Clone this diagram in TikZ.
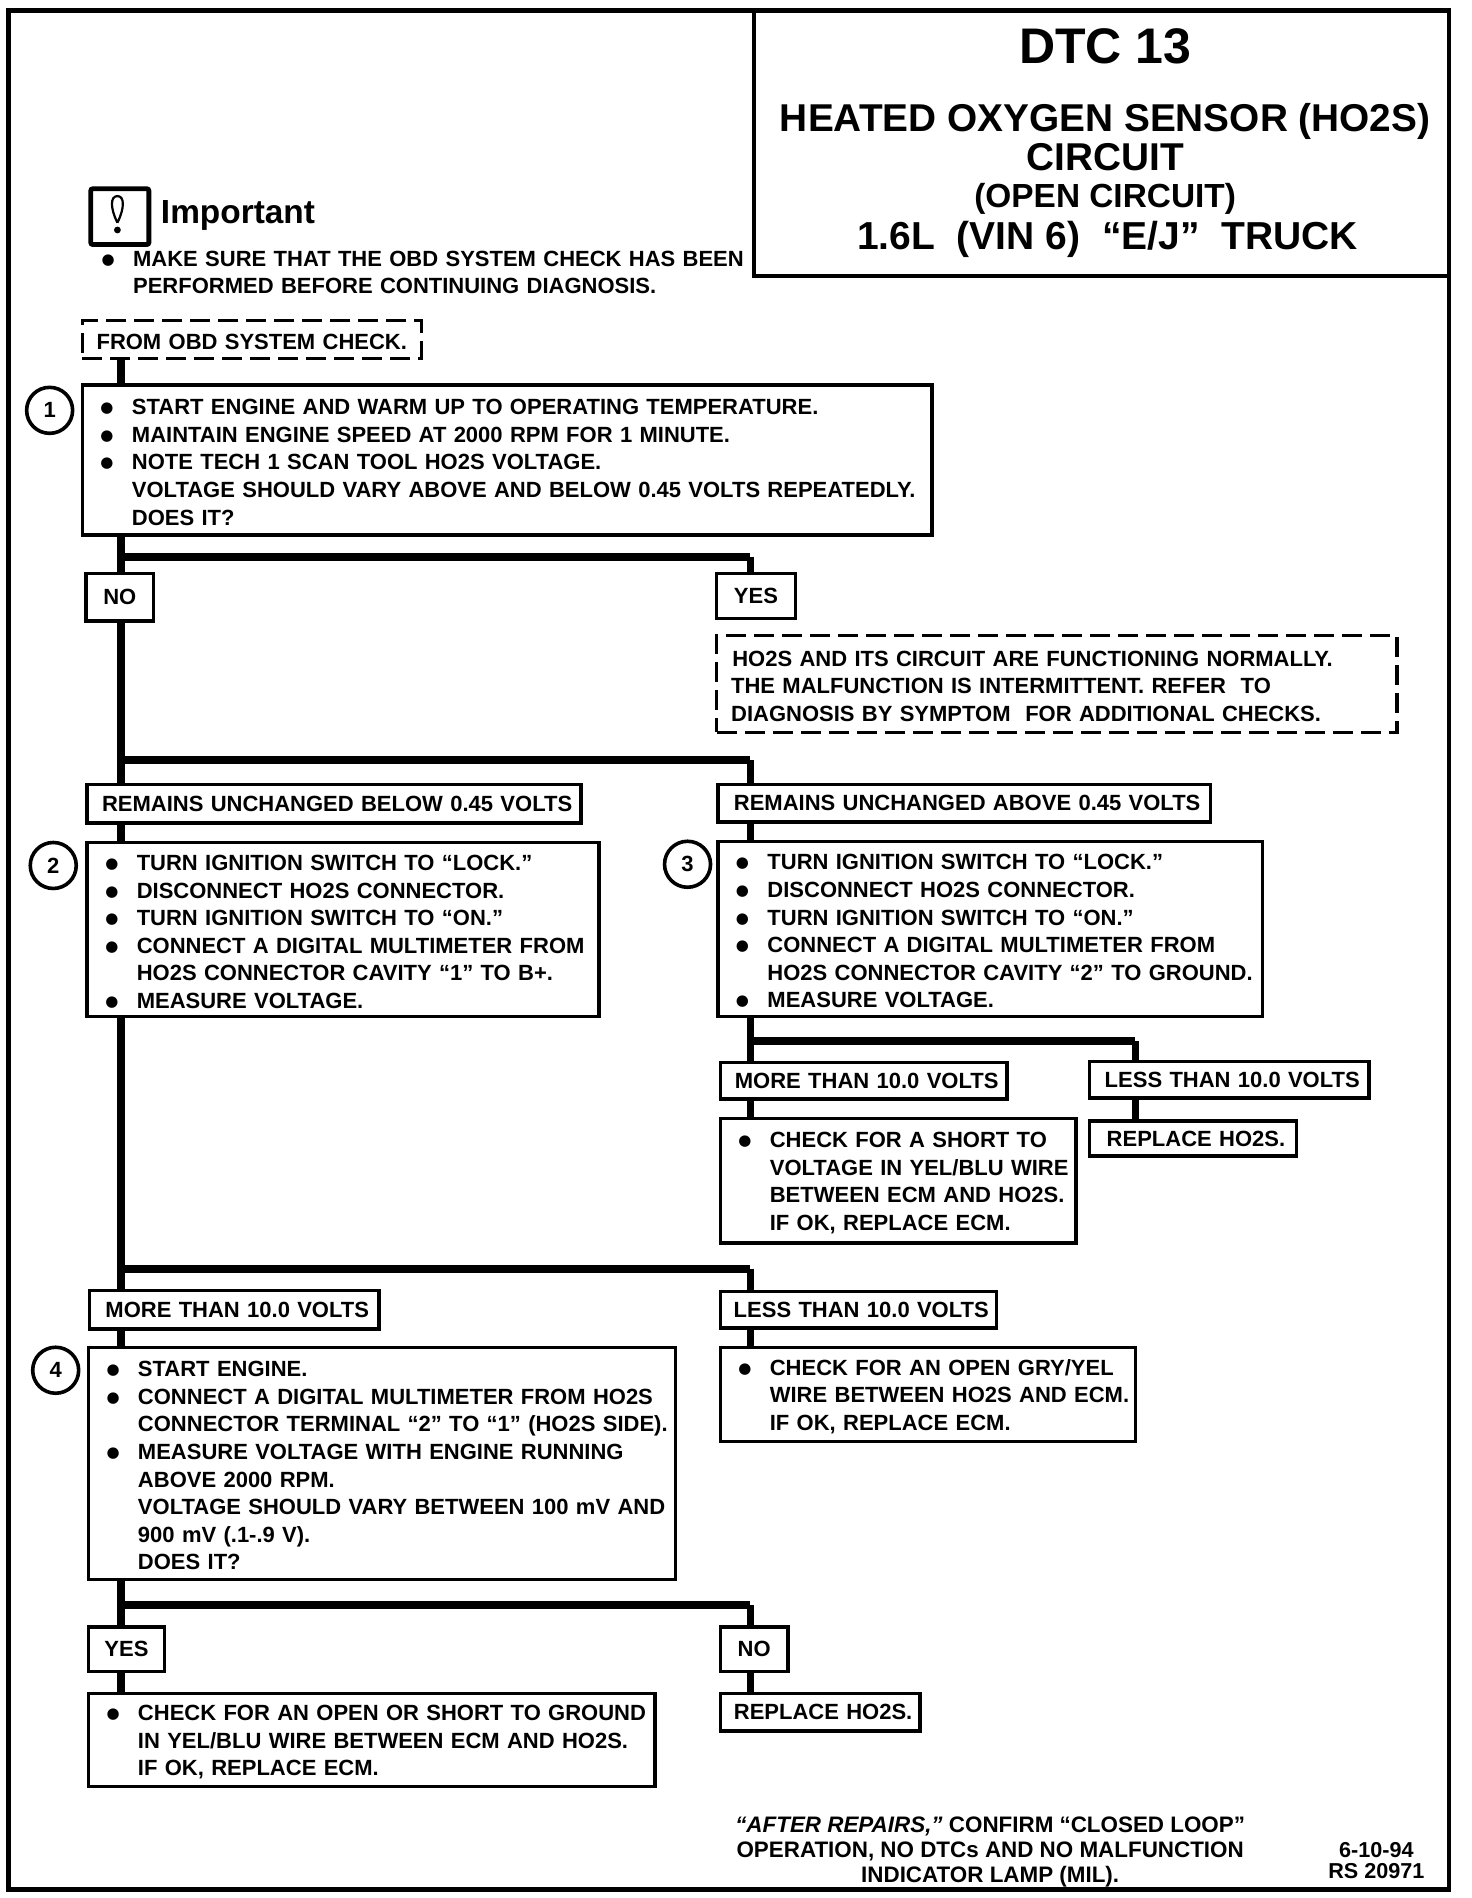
\documentclass[tikz,border=0pt]{standalone}
\usepackage{fontspec}
\setmainfont{Liberation Sans}
\newfontfamily\bulfont{DejaVu Sans}
\newlength{\unitpx}
\setlength{\unitpx}{0.60526pt}
\newcommand{\bul}[1]{\hspace*{15\unitpx}\makebox[26\unitpx][l]{\raisebox{1pt}{\bulfont\fontsize{7.5}{7.5}\selectfont ●}}#1}
\newcommand{\ind}[1]{\hspace*{41\unitpx}#1}
\tikzset{
  boxsize/.style 2 args={minimum width=#1*\unitpx, minimum height=#2*\unitpx, text width=#1*\unitpx},
  plaintext/.style={font=\fontsize{11}{13.8}\selectfont\bfseries, inner sep=0pt, outer sep=0pt},
  labelbox/.style={plaintext, draw, line width=1.7pt, anchor=north west, align=center},
  rangebox/.style={labelbox, execute at begin node={\hspace*{5\unitpx}}},
  stepbox/.style={labelbox, align=left, execute at begin node={\rule{0pt}{10pt}}},
  dashbox/.style={draw, line width=1.7pt, dash pattern=on 10pt off 4pt},
  numcircle/.style={plaintext, draw, circle, line width=1.8pt, minimum size=38*\unitpx},
  flowline/.style={line width=4pt},
  forkline/.style={line width=4pt},
  dropline/.style={line width=3.6pt},
}

\begin{document}
\begin{tikzpicture}[x=1\unitpx, y=-1\unitpx]
\useasboundingbox (0,0) rectangle (1216,1568);

% Page frame
\draw[line width=2.4pt] (7,9) rectangle (1197,1561);

% Title box
\node[labelbox, boxsize={574}{219}] (title) at (623,9) {};
\node[plaintext, font=\fontsize{25}{25}\selectfont\bfseries] (dtc) at (913,38) {DTC 13};
\node[plaintext, font=\fontsize{19.4}{19.4}\selectfont\bfseries] (sensor) at (913,100) {HEATED OXYGEN SENSOR (HO2S)};
\node[plaintext, font=\fontsize{19.4}{19.4}\selectfont\bfseries] (circuit) at (913,130) {CIRCUIT};
\node[plaintext, font=\fontsize{16.7}{16.7}\selectfont\bfseries] (opencircuit) at (913,164) {(OPEN CIRCUIT)};
\node[plaintext, font=\fontsize{19.5}{19.5}\selectfont\bfseries] (truck) at (915,198) {1.6L\ \ (VIN 6)\ \ “E/J”\ \ TRUCK};

% Important note
\node[draw, line width=2.4pt, rounded corners=1pt, anchor=north west, inner sep=0pt, minimum width=48*\unitpx, minimum height=46*\unitpx] (icon) at (73,154) {};
\draw[line width=1.1pt] (97,184) .. controls (91,172) and (91,162) .. (97,162) .. controls (103,162) and (103,172) .. (97,184);
\fill (97,190) circle (1.7pt);
\node[plaintext, font=\fontsize{16.7}{16.7}\selectfont\bfseries, anchor=west] (important) at (133,178) {Important};
\node[plaintext, anchor=west, align=left, text width=550*\unitpx] (note) at (69,225)
  {\bul{MAKE SURE THAT THE OBD SYSTEM CHECK HAS BEEN}\\ \ind{PERFORMED BEFORE CONTINUING DIAGNOSIS.}};

% Trunks and forks
\coordinate (trunkl) at (100,0);
\coordinate (trunkr) at (620,0);
\coordinate (trunkm) at (938,0);
\coordinate (forka) at (0,460);
\coordinate (forkb) at (0,628);
\coordinate (forkc) at (0,860);
\coordinate (forkd) at (0,1048);
\coordinate (forke) at (0,1326);

% Boxes
\node[stepbox, dashbox, align=center, boxsize={280}{31}] (obd) at (68,265) {FROM OBD SYSTEM CHECK.};
\node[stepbox, boxsize={702}{124}] (s1) at (68,318) {\bul{START ENGINE AND WARM UP TO OPERATING TEMPERATURE.}\\
  \bul{MAINTAIN ENGINE SPEED AT 2000 RPM FOR 1 MINUTE.}\\
  \bul{NOTE TECH 1 SCAN TOOL HO2S VOLTAGE.}\\
  \ind{VOLTAGE SHOULD VARY ABOVE AND BELOW 0.45 VOLTS REPEATEDLY.}\\
  \ind{DOES IT?}};
\node[labelbox, boxsize={56}{39}] (no1) at (71,474) {NO};
\node[labelbox, boxsize={65}{37}] (yes1) at (592,474) {YES};
\node[stepbox, dashbox, boxsize={562}{80}] (normal) at (592,525) {\hspace*{13\unitpx}HO2S AND ITS CIRCUIT ARE FUNCTIONING NORMALLY.\\
  \hspace*{12\unitpx}THE MALFUNCTION IS INTERMITTENT. REFER\ \ TO\\
  \hspace*{12\unitpx}DIAGNOSIS BY SYMPTOM\ \ FOR ADDITIONAL CHECKS.};

\node[rangebox, boxsize={408}{32}] (below) at (72,648) {REMAINS UNCHANGED BELOW 0.45 VOLTS};
\node[rangebox, boxsize={407}{31}] (above) at (593,648) {REMAINS UNCHANGED ABOVE 0.45 VOLTS};
\node[stepbox, boxsize={423}{144}] (s2) at (72,696) {\bul{TURN IGNITION SWITCH TO “LOCK.”}\\
  \bul{DISCONNECT HO2S CONNECTOR.}\\
  \bul{TURN IGNITION SWITCH TO “ON.”}\\
  \bul{CONNECT A DIGITAL MULTIMETER FROM}\\
  \ind{HO2S CONNECTOR CAVITY “1” TO B+.}\\
  \bul{MEASURE VOLTAGE.}};
\node[stepbox, boxsize={450}{145}] (s3) at (593,695) {\bul{TURN IGNITION SWITCH TO “LOCK.”}\\
  \bul{DISCONNECT HO2S CONNECTOR.}\\
  \bul{TURN IGNITION SWITCH TO “ON.”}\\
  \bul{CONNECT A DIGITAL MULTIMETER FROM}\\
  \ind{HO2S CONNECTOR CAVITY “2” TO GROUND.}\\
  \bul{MEASURE VOLTAGE.}};

\node[rangebox, boxsize={237}{30}] (more3) at (595,878) {MORE THAN 10.0 VOLTS};
\node[rangebox, boxsize={231}{30}] (less3) at (900,877) {LESS THAN 10.0 VOLTS};
\node[stepbox, boxsize={294}{103}] (short) at (595,924) {\bul{CHECK FOR A SHORT TO}\\
  \ind{VOLTAGE IN YEL/BLU WIRE}\\
  \ind{BETWEEN ECM AND HO2S.}\\
  \ind{IF OK, REPLACE ECM.}};
\node[rangebox, boxsize={171}{29}] (replace3) at (900,926) {REPLACE HO2S.};

\node[rangebox, boxsize={239}{32}] (more2) at (74,1066) {MORE THAN 10.0 VOLTS};
\node[rangebox, boxsize={228}{30}] (less2) at (595,1067) {LESS THAN 10.0 VOLTS};
\node[stepbox, boxsize={485}{192}] (s4) at (73,1113) {\bul{START ENGINE.}\\
  \bul{CONNECT A DIGITAL MULTIMETER FROM HO2S}\\
  \ind{CONNECTOR TERMINAL “2” TO “1” (HO2S SIDE).}\\
  \bul{MEASURE VOLTAGE WITH ENGINE RUNNING}\\
  \ind{ABOVE 2000 RPM.}\\
  \ind{VOLTAGE SHOULD VARY BETWEEN 100 mV AND}\\
  \ind{900 mV (.1-.9 V).}\\
  \ind{DOES IT?}};
\node[stepbox, boxsize={343}{78}] (opengry) at (595,1113) {\bul{CHECK FOR AN OPEN GRY/YEL}\\
  \ind{WIRE BETWEEN HO2S AND ECM.}\\
  \ind{IF OK, REPLACE ECM.}};

\node[labelbox, boxsize={63}{37}] (yes4) at (73,1344) {YES};
\node[labelbox, boxsize={56}{37}] (no4) at (595,1344) {NO};
\node[stepbox, boxsize={468}{77}] (openshort) at (73,1399) {\bul{CHECK FOR AN OPEN OR SHORT TO GROUND}\\
  \ind{IN YEL/BLU WIRE BETWEEN ECM AND HO2S.}\\
  \ind{IF OK, REPLACE ECM.}};
\node[rangebox, boxsize={165}{31}] (replace4) at (595,1399) {REPLACE HO2S.};

% Step numbers
\foreach \n/\x/\y in {1/41/339,2/44/715,3/568/714,4/46/1132} {
  \node[numcircle] (c\n) at (\x,\y) {\n};
}

% Straight drops
\foreach \a/\b in {obd/s1,s1/no1,no1/below,below/s2,s2/more2,more2/s4,s4/yes4,yes4/openshort} {
  \draw[flowline] (\a.south -| trunkl) -- (\b.north -| trunkl);
}
\foreach \a/\b in {above/s3,s3/more3,more3/short,less2/opengry,no4/replace4} {
  \draw[dropline] (\a.south -| trunkr) -- (\b.north -| trunkr);
}
\draw[dropline] (less3.south -| trunkm) -- (replace3.north -| trunkm);

% Forks
\foreach \f/\b in {forka/yes1,forkb/above,forkd/less2,forke/no4} {
  \draw[forkline] (trunkl |- \f) -- (trunkr |- \f);
  \draw[dropline] (trunkr |- \f) -- (\b.north -| trunkr);
}
\draw[forkline] (trunkr |- forkc) -- (trunkm |- forkc);
\draw[dropline] (trunkm |- forkc) -- (less3.north -| trunkm);

% Footer
\node[plaintext, font=\fontsize{11.2}{12.4}\selectfont\bfseries, align=center] (repairs) at (818,1530)
  {\textit{“AFTER REPAIRS,”} CONFIRM “CLOSED LOOP”\\ OPERATION, NO DTCs AND NO MALFUNCTION\\ INDICATOR LAMP (MIL).};
\node[plaintext, font=\fontsize{10.8}{10.8}\selectfont\bfseries, align=center] (stamp) at (1137,1537) {6-10-94\\ RS 20971};
\end{tikzpicture}
\end{document}
